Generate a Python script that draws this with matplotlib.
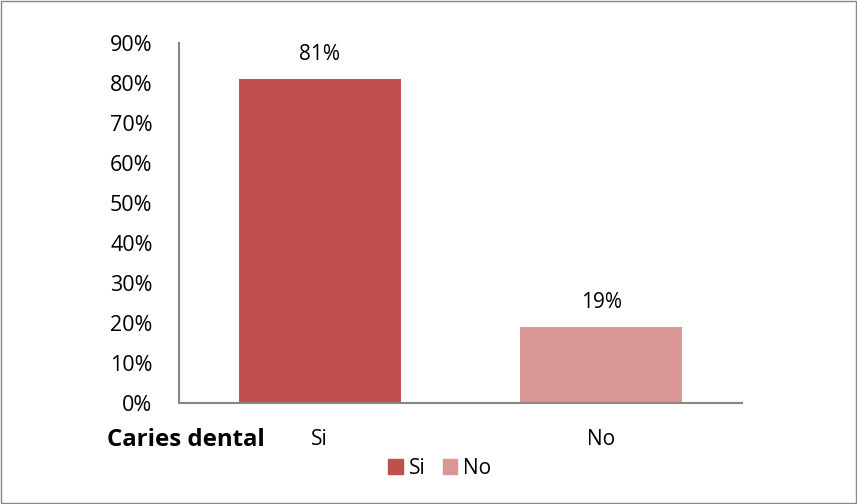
import matplotlib.pyplot as plt
from matplotlib.patches import Rectangle, Patch

categories = ["Si", "No"]
values = [81, 19]
bar_colours = ["#C0504D", "#D99694"]

plt.rcParams["font.family"] = ["Open Sans", "DejaVu Sans"]

fig = plt.figure(figsize=(8.57, 5.04), dpi=100)
ax = fig.add_axes([179 / 857, 101 / 504, (742 - 179) / 857, (403 - 43) / 504])

x = range(len(categories))
ax.bar(x, values, width=0.575, color=bar_colours)

for i, v in zip(x, values):
    ax.text(i, v + 3.6, f"{v}%", ha="center", va="bottom", fontsize=15)

ax.set_xlim(-0.5, 1.5)
ax.set_ylim(0, 90)
ax.set_yticks(range(0, 91, 10))
ax.set_yticklabels([f"{t}%" for t in range(0, 91, 10)], fontsize=15.5)
ax.set_xticks(list(x))
ax.set_xticklabels(categories, fontsize=15)
ax.tick_params(length=0)
ax.tick_params(axis="x", pad=19)
ax.tick_params(axis="y", pad=19)

for s in ["top", "right"]:
    ax.spines[s].set_visible(False)
ax.spines["left"].set_color("#868686")
ax.spines["bottom"].set_color("#868686")
ax.spines["left"].set_linewidth(1.5)
ax.spines["bottom"].set_linewidth(1.5)

fig.text(107 / 857, 1 - 440 / 504, "Caries dental", fontsize=17.3, fontweight="bold",
         ha="left", va="center")

handles = [Patch(color=c, label=l) for c, l in zip(bar_colours, categories)]
fig.legend(handles=handles, loc="center", bbox_to_anchor=(440 / 857, 1 - 468 / 504),
           ncol=2, frameon=False, fontsize=15, handlelength=0.7, handleheight=0.7,
           handletextpad=0.3, columnspacing=0.8)

fig.add_artist(Rectangle((1 / 857, 1 / 504), 855 / 857, 502 / 504, transform=fig.transFigure,
                         fill=False, edgecolor="#868686", linewidth=1))

fig.savefig("out.png", dpi=100)
